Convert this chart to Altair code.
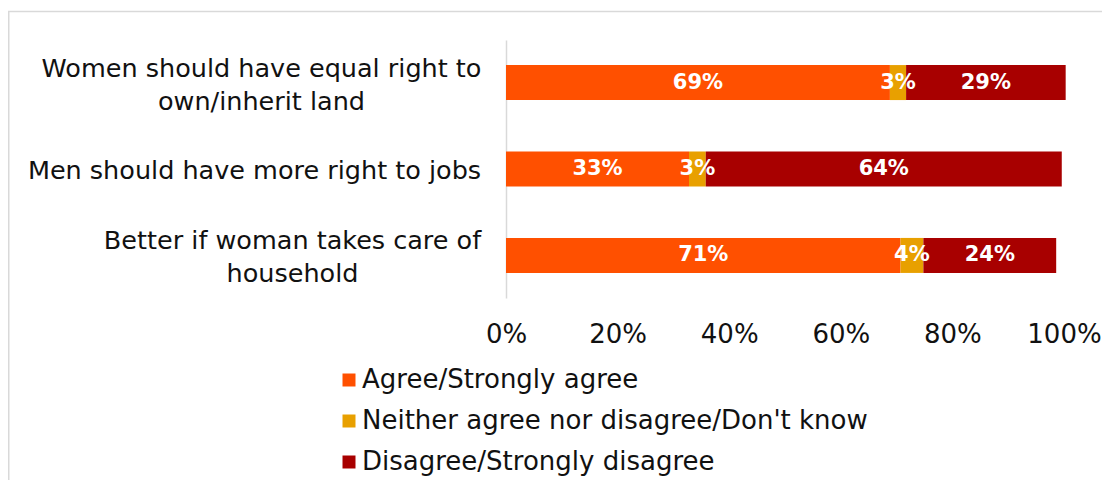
import altair as alt
import pandas as pd

categories = [
    "Women should have equal right to|own/inherit land",
    "Men should have more right to jobs",
    "Better if woman takes care of|household",
]
series = [
    "Agree/Strongly agree",
    "Neither agree nor disagree/Don't know",
    "Disagree/Strongly disagree",
]
agree = [68.8, 32.8, 70.7]
neither = [2.9, 3.0, 4.1]
disagree = [28.6, 63.8, 23.8]
colors = ["#FF5000", "#E8A000", "#A80000"]
x_ticks = [0, 20, 40, 60, 80, 100]

rows = []
for i, c in enumerate(categories):
    for j, vals in enumerate([agree, neither, disagree]):
        rows.append({"category": c, "series": series[j], "order": j, "pct": vals[i]})
df = pd.DataFrame(rows)

W, H = 1094, 472
FONT = "DejaVu Sans"
TXT = "#111111"

x_scale = alt.Scale(domain=[0, 100], range=[498, 1056], nice=False, zero=True)
y_scale = alt.Scale(domain=categories, range=[32, 290], paddingInner=0.595, paddingOuter=0.29)

base = alt.Chart(df)

two_line = "indexof(datum.value, '|') >= 0"

bars = base.mark_bar().encode(
    x=alt.X(
        "pct:Q",
        stack="zero",
        scale=x_scale,
        axis=alt.Axis(
            values=x_ticks,
            labelExpr="datum.value + '%'",
            labelFlush=False,
            labelOverlap=False,
            domain=False,
            ticks=False,
            grid=False,
            offset=290 - H,
            labelPadding=23,
            labelFontSize=26,
            labelFont=FONT,
            labelColor=TXT,
            title=None,
        ),
    ),
    y=alt.Y(
        "category:N",
        scale=y_scale,
        sort=None,
        axis=alt.Axis(
            title=None,
            ticks=False,
            domainColor="#D9D9D9",
            domainWidth=1.5,
            offset=-498,
            labelExpr="split(datum.label, '|')",
            labelAlign="center",
            labelBaseline="middle",
            labelLineHeight=33,
            labelFontSize=25.5,
            labelFont=FONT,
            labelColor=TXT,
            labelLimit=600,
            labelOffset={
                "condition": {"test": two_line, "value": -14},
                "value": 2,
            },
            labelPadding={
                "condition": [
                    {"test": "indexof(datum.value, 'Women') == 0", "value": 245},
                    {"test": "indexof(datum.value, 'Better') == 0", "value": 214},
                ],
                "value": 252,
            },
        ),
    ),
    color=alt.Color(
        "series:N",
        scale=alt.Scale(domain=series, range=colors),
        legend=alt.Legend(
            orient="none",
            legendX=328,
            legendY=359,
            title=None,
            direction="vertical",
            symbolType="square",
            symbolSize=169,
            symbolStrokeWidth=0,
            labelFontSize=26,
            labelFont=FONT,
            labelColor=TXT,
            labelLimit=800,
            rowPadding=15,
            labelOffset=0,
            padding=0,
        ),
    ),
    order=alt.Order("order:Q"),
)

text = (
    base.transform_stack(
        stack="pct",
        as_=["x0", "x1"],
        groupby=["category"],
        sort=[alt.SortField("order")],
    )
    .transform_calculate(mid="(datum.x0 + datum.x1) / 2", lbl="round(datum.pct) + '%'")
    .mark_text(color="white", fontWeight="bold", fontSize=21, font=FONT, align="center", baseline="middle")
    .encode(
        x=alt.X("mid:Q", scale=x_scale),
        y=alt.Y("category:N", scale=y_scale, sort=None),
        text="lbl:N",
    )
)

dummy = alt.Chart(pd.DataFrame({"a": [0]}))
border_top = dummy.mark_rule(color="#D9D9D9", strokeWidth=1.5).encode(
    x=alt.value(0), x2=alt.value(W), y=alt.value(3.5)
)
border_left = dummy.mark_rule(color="#D9D9D9", strokeWidth=1.5).encode(
    x=alt.value(0.75), y=alt.value(3), y2=alt.value(H)
)

chart = (
    alt.layer(bars, text, border_top, border_left)
    .properties(width=W, height=H, autosize=alt.AutoSizeParams(type="none"), padding=0)
    .configure_view(stroke=None)
)

chart.save("out.html", embed_options={"renderer": "svg", "actions": False})
